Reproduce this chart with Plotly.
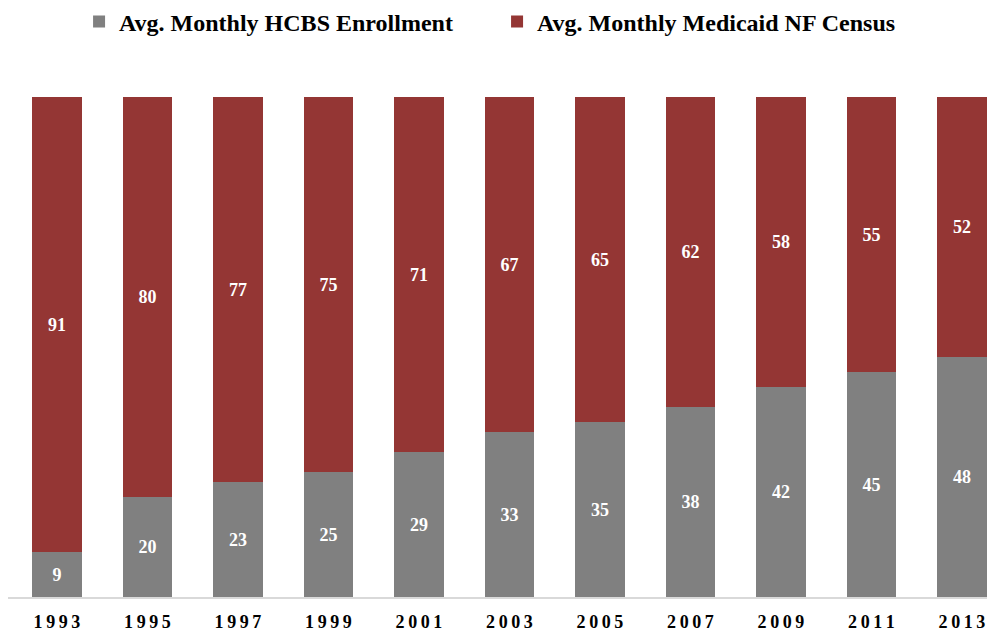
import plotly.graph_objects as go

years = ["1993", "1995", "1997", "1999", "2001", "2003", "2005", "2007", "2009", "2011", "2013"]
hcbs = [9, 20, 23, 25, 29, 33, 35, 38, 42, 45, 48]
nf = [91, 80, 77, 75, 71, 67, 65, 62, 58, 55, 52]
tick_text = ["\u2009".join(y) for y in years]

font_family = "Liberation Serif, Times New Roman, serif"

fig = go.Figure()
fig.add_trace(go.Bar(
    x=years, y=hcbs, name="<b>Avg. Monthly HCBS Enrollment</b>",
    marker=dict(color="#808080", line=dict(width=0)),
    text=[str(v) for v in hcbs], texttemplate="<b>%{text}</b>",
    textposition="inside", insidetextanchor="middle",
    textfont=dict(color="white", size=18, family=font_family),
))
fig.add_trace(go.Bar(
    x=years, y=nf, name="<b>Avg. Monthly Medicaid NF Census</b>",
    marker=dict(color="#943634", line=dict(width=0)),
    text=[str(v) for v in nf], texttemplate="<b>%{text}</b>",
    textposition="inside", insidetextanchor="middle",
    textfont=dict(color="white", size=18, family=font_family),
))

fig.update_layout(
    barmode="stack",
    bargap=0.45,
    width=987, height=623,
    margin=dict(l=0, r=0, t=89, b=34, autoexpand=False),
    paper_bgcolor="white", plot_bgcolor="white",
    font=dict(family=font_family, color="black"),
    uniformtext=dict(minsize=18, mode="show"),
    legend=dict(
        orientation="h", x=0.072, xanchor="left", y=1 - 14 / 623, yanchor="middle",
        yref="container", font=dict(size=24, family=font_family, color="black"),
        itemwidth=30, traceorder="normal", entrywidth=373,
    ),
    xaxis=dict(
        type="category", range=[-0.541, 10.365], automargin=False,
        tickvals=years, ticktext=[f"<b>{t}</b>" for t in tick_text],
        tickfont=dict(size=18, family=font_family, color="black"),
        showline=True, linecolor="#D9D9D9", linewidth=2,
        ticks="", showgrid=False, ticklabelstandoff=7,
    ),
    yaxis=dict(range=[0, 100], visible=False, showgrid=False, automargin=False),
)

fig.write_html("out.html")
